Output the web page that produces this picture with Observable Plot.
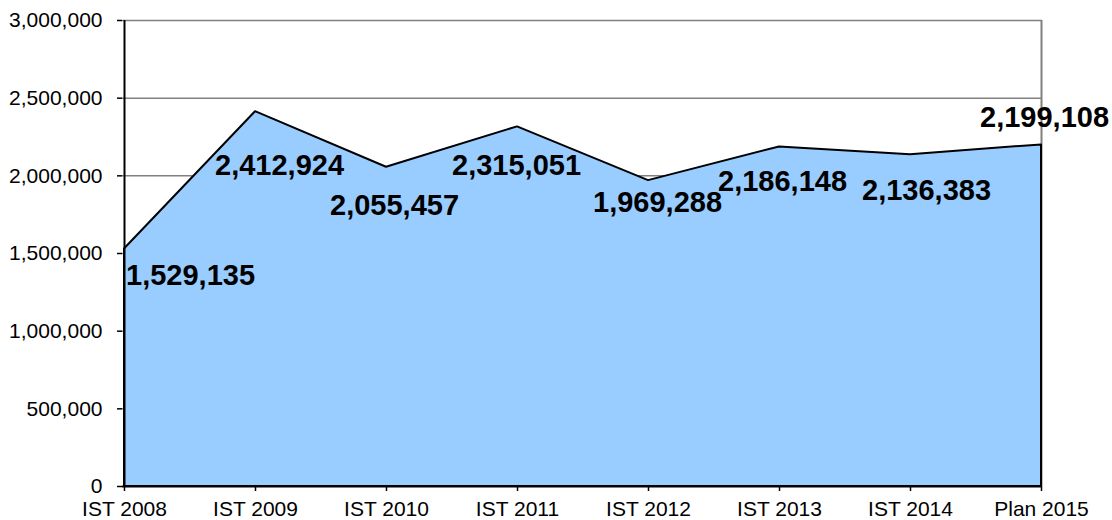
<!DOCTYPE html>
<html>
<head>
<meta charset="utf-8">
<script src="https://cdn.jsdelivr.net/npm/d3@7"></script>
<script src="https://cdn.jsdelivr.net/npm/@observablehq/plot@0.6"></script>
<style>
  html, body { margin: 0; padding: 0; background: #fff; }
  #chart svg { display: block; }
</style>
</head>
<body>
<div id="chart"></div>
<script>
const categories = ["IST 2008", "IST 2009", "IST 2010", "IST 2011", "IST 2012", "IST 2013", "IST 2014", "Plan 2015"];
const values = [1529135, 2412924, 2055457, 2315051, 1969288, 2186148, 2136383, 2199108];
const yTicks = [0, 500000, 1000000, 1500000, 2000000, 2500000, 3000000];
// label placement offsets (pixels) relative to each point
const labelDx = [66, 24, 8, -1, 9, 3, 16, 3];
const labelDy = [27, 54, 38, 39, 22, 35, 36, -27];

const data = categories.map((c, i) => ({cat: c, value: values[i]}));
const fmt = d3.format(",");
const font = "'Liberation Sans', Arial, sans-serif";

const chart = Plot.plot({
  width: 1112,
  height: 520,
  marginLeft: 122,
  marginRight: 70,
  marginTop: 20,
  marginBottom: 34,
  style: {fontFamily: font, fontSize: "21px", color: "#000", background: "#fff"},
  x: {type: "point", domain: categories, padding: 0, label: null},
  y: {domain: [0, 3000000], label: null},
  marks: [
    Plot.ruleY(yTicks.slice(1), {stroke: "#808080", strokeWidth: 1.5, strokeOpacity: 1}),
    Plot.ruleX([categories[categories.length - 1]], {y1: 0, y2: 3000000, stroke: "#808080", strokeWidth: 2}),
    Plot.areaY(data, {x: "cat", y: "value", fill: "#99ccff", stroke: "#000", strokeWidth: 2, curve: "linear"}),
    Plot.ruleX([categories[0]], {y1: 0, y2: 3000000, stroke: "#000", strokeWidth: 2}),
    Plot.ruleY([0], {stroke: "#000", strokeWidth: 2}),
    Plot.axisY({ticks: yTicks, tickFormat: fmt, tickSize: 5, tickPadding: 15, stroke: "#000", strokeWidth: 1.5, fontSize: 21, label: null}),
    Plot.axisX({tickSize: 5, tickPadding: 10, stroke: "#000", strokeWidth: 1.5, fontSize: 21, label: null}),
    ...data.map((d, i) => Plot.text([d], {
      x: "cat", y: "value", text: (v) => fmt(v.value),
      dx: labelDx[i], dy: labelDy[i],
      fontSize: 29, fontWeight: "bold", fill: "#000", fontFamily: font
    }))
  ]
});
document.getElementById("chart").append(chart);
</script>
</body>
</html>
